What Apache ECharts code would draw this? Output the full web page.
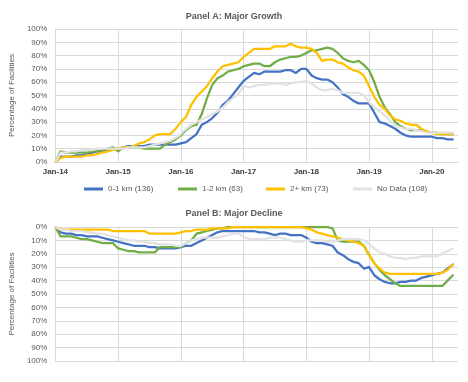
<!DOCTYPE html>
<html>
<head>
<meta charset="utf-8">
<script src="https://cdn.jsdelivr.net/npm/echarts@6/dist/echarts.min.js"></script>
<style>
html,body{margin:0;padding:0;background:#fff;}
#chart{width:468px;height:382px;}
</style>
</head>
<body>
<div id="chart"></div>
<script>
// Tick labels on the time axis (month index 0 = Jan-14, one tick every 12 months)
const tickLabels = ['Jan-14','Jan-15','Jan-16','Jan-17','Jan-18','Jan-19','Jan-20'];
const seriesNames = ['0-1 km (136)','1-2 km (63)','2+ km (73)','No Data (108)'];

// Panel A: Major Growth (percentage of facilities), monthly from Jan-14
const growth0to1 = [0,4,4,4,5,5,6,7,8,8,9,10,10,
  11,12,12,12,12,13,13,13,13,13,13,14,
  15,18,21,28,30,33,37,43,46,51,56,61,
  64,67,66,68,68,68,68,69,69,67,70,70,
  65,63,62,62,60,56,51,49,46,44,44,44,
  37,30,29,27,25,22,20,19,19,19,19,19,
  18,18,17,17];
const growth1to2 = [0,8,7,7,7,7,7,8,8,9,10,11,8,
  11,11,11,11,10,10,10,10,13,15,17,20,
  24,27,28,36,48,58,63,65,68,69,70,72,
  73,74,74,72,72,75,77,78,79,79,80,82,
  84,84,85,86,85,82,78,76,75,76,73,69,
  60,49,41,36,30,27,25,24,24,24,23,22,
  22,21,21,21];
const growth2plus = [0,3,4,4,4,4,5,5,6,7,8,9,10,
  11,11,12,14,15,17,20,21,21,21,25,30,
  34,43,49,53,57,63,68,72,73,74,75,79,
  82,85,85,85,85,87,87,87,89,87,86,86,
  85,82,76,77,77,75,74,71,69,68,65,57,
  49,43,40,35,32,31,29,28,28,25,23,22,
  21,21,21,21];
const growthNoData = [0,7,7,8,8,9,9,9,10,10,10,10,10,
  10,11,11,11,11,12,13,14,15,16,18,21,
  25,28,30,32,34,36,38,41,45,48,51,57,
  56,57,58,58,59,59,59,58,59,60,60,61,
  59,56,54,54,55,54,52,52,52,52,50,45,
  41,38,35,31,27,26,25,25,24,23,22,22,
  22,22,22,22];

// Panel B: Major Decline (percentage of facilities), monthly from Jan-14
const decline0to1 = [0,4,5,5,6,6,7,7,7,8,9,10,11,
  12,13,14,14,14,15,15,16,16,16,16,15,
  14,14,12,10,8,6,4,3,3,3,3,3,
  3,3,4,4,5,6,5,5,6,6,6,8,
  11,12,12,13,14,19,21,24,26,27,31,30,
  36,39,41,42,42,41,41,40,40,38,37,36,
  35,34,31,28];
const decline1to2 = [0,7,7,7,8,9,9,10,11,12,12,12,16,
  17,18,18,19,19,19,19,15,15,15,15,15,
  12,10,5,4,3,2,1,1,0,0,0,0,
  0,0,0,0,0,0,0,0,0,0,0,0,
  0,0,0,0,1,10,11,11,11,11,14,21,
  27,32,36,39,42,44,44,44,44,44,44,44,
  44,44,40,36];
const decline2plus = [0,2,2,2,2,2,2,2,2,2,2,3,3,
  3,3,3,3,3,5,5,5,5,5,5,4,
  3,3,2,2,2,1,1,1,1,0,0,0,
  0,0,0,0,0,0,0,0,0,0,0,1,
  2,4,5,6,7,8,9,10,11,12,14,21,
  27,31,34,35,35,35,35,35,35,35,35,35,
  35,34,32,28];
const declineNoData = [0,2,2,3,3,3,4,4,5,5,6,7,8,
  9,10,10,11,11,12,12,13,13,13,14,14,
  12,10,9,8,8,8,8,7,6,5,5,7,
  9,9,9,9,8,8,8,9,10,11,11,10,
  10,10,10,11,11,10,9,9,9,9,10,13,
  16,19,20,22,23,23,24,23,23,22,22,22,
  22,20,18,16];

const colors = ['#4472C4','#70AD47','#FFC000','#E2E2E2'];
const FONT = 'Liberation Sans, Arial, sans-serif';
const GRID = '#D9D9D9';

const chart = echarts.init(document.getElementById('chart'), null, {renderer:'canvas'});

function toPairs(arr){ return arr.map((v,i)=>[i,v]); }

function mkX(gi, showLabels){
  return {
    gridIndex: gi, type:'value', min:0, max:77, interval:12,
    axisLine:{show:true, onZero:true, lineStyle:{color:GRID,width:1}},
    axisTick:{show:false},
    axisLabel:{show:showLabels, formatter:(v)=> (v%12===0 && tickLabels[v/12]) ? tickLabels[v/12] : '',
      fontSize:8, fontWeight:'bold', color:'#404040', fontFamily:FONT, margin:6,
      showMaxLabel:false},
    splitLine:{show:true, showMaxLine:false, lineStyle:{color:GRID,width:1}}
  };
}
function mkY(gi, inverse){
  return {
    gridIndex: gi, type:'value', min:0, max:100, interval:10, inverse:inverse,
    axisLine:{show:false}, axisTick:{show:false},
    axisLabel:{formatter:'{value}%', fontSize:8, color:'#595959', fontFamily:FONT, margin:8},
    splitLine:{show:true, lineStyle:{color:GRID,width:1}},
    name:'Percentage of Facilities', nameLocation:'middle', nameGap:27,
    nameTextStyle:{fontSize:8, color:'#595959', fontFamily:FONT}
  };
}
function mkSeries(name, data, color, gi){
  return {
    name:name, type:'line', xAxisIndex:gi, yAxisIndex:gi, data:toPairs(data),
    showSymbol:false, symbol:'none', smooth:false,
    lineStyle:{color:color, width:2.25, join:'round', cap:'round'},
    itemStyle:{color:color}, emphasis:{disabled:true}
  };
}

const legendLefts = [84,178,266,353];
const legends = seriesNames.map((n,i)=>({
  data:[n], left:legendLefts[i], top:185, padding:0,
  icon:'rect', itemWidth:19, itemHeight:3,
  textStyle:{fontSize:8, color:'#595959', fontFamily:FONT}
}));

chart.setOption({
  animation:false,
  backgroundColor:'#ffffff',
  title:[
    {text:'Panel A: Major Growth', left:'center', top:12, padding:0,
     textStyle:{fontSize:9, fontWeight:'bold', color:'#595959', fontFamily:FONT}},
    {text:'Panel B: Major Decline', left:'center', top:209, padding:0,
     textStyle:{fontSize:9, fontWeight:'bold', color:'#595959', fontFamily:FONT}}
  ],
  legend: legends,
  grid:[
    {left:53, top:29, width:405, height:133},
    {left:53, top:227, width:405, height:134}
  ],
  xAxis:[mkX(0,true), mkX(1,false)],
  yAxis:[mkY(0,false), mkY(1,true)],
  series:[
    mkSeries(seriesNames[0], growth0to1, colors[0], 0),
    mkSeries(seriesNames[1], growth1to2, colors[1], 0),
    mkSeries(seriesNames[2], growth2plus, colors[2], 0),
    mkSeries(seriesNames[3], growthNoData, colors[3], 0),
    mkSeries(seriesNames[0], decline0to1, colors[0], 1),
    mkSeries(seriesNames[1], decline1to2, colors[1], 1),
    mkSeries(seriesNames[2], decline2plus, colors[2], 1),
    mkSeries(seriesNames[3], declineNoData, colors[3], 1)
  ]
});
</script>
</body>
</html>
